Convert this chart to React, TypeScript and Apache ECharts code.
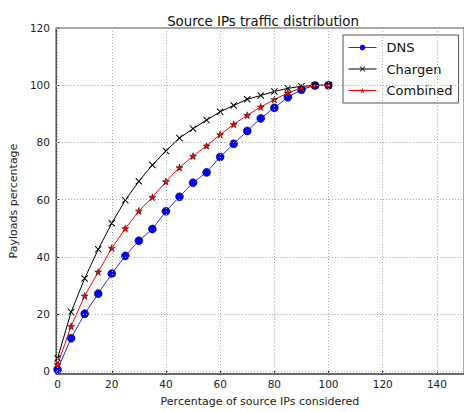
import React, { useEffect, useRef } from "react";
import * as echarts from "echarts";

const xValues = [0, 5, 10, 15, 20, 25, 30, 35, 40, 45, 50, 55, 60, 65, 70, 75, 80, 85, 90, 95, 100];
const dnsValues = [0.6, 11.5, 20.1, 27.1, 34.1, 40.3, 45.6, 49.7, 55.9, 61.0, 65.9, 69.5, 74.9, 79.5, 84.0, 88.4, 92.1, 95.8, 98.4, 99.9, 100];
const chargenValues = [4.5, 20.7, 32.4, 42.6, 51.7, 59.8, 66.4, 72.1, 77.0, 81.5, 84.8, 87.8, 90.7, 92.9, 95.1, 96.4, 97.8, 98.9, 99.6, 100, 100];
const combinedValues = [2.3, 15.7, 26.3, 34.7, 43.0, 49.9, 56.0, 60.8, 66.3, 71.2, 75.2, 78.8, 82.7, 86.3, 89.5, 92.4, 95.0, 97.3, 99.0, 99.9, 100];
const xTicks = [0, 20, 40, 60, 80, 100, 120, 140];
const yTicks = [0, 20, 40, 60, 80, 100, 120];

const STAR = "path://M5,0L6.2,3.6L10,3.6L6.9,5.9L8.1,9.5L5,7.3L1.9,9.5L3.1,5.9L0,3.6L3.8,3.6Z";
const CROSS = "path://M0,1L1,0L5,4L9,0L10,1L6,5L10,9L9,10L5,6L1,10L0,9L4,5Z";
const FONT = "DejaVu Sans";

export default function App() {
  const ref = useRef<HTMLDivElement>(null);
  useEffect(() => {
    if (!ref.current) return;
    const chart = echarts.init(ref.current, null, { renderer: "svg" });
    const pair = (ys: number[]) => xValues.map((x, i) => [x, ys[i]]);
    const gridStyle = { color: "#a8a8a8", width: 1, type: [1, 2] as any };
    chart.setOption({
      animation: false,
      backgroundColor: "#fff",
      textStyle: { fontFamily: FONT },
      title: {
        text: "Source IPs traffic distribution",
        left: 258,
        textAlign: "center",
        top: 10,
        textStyle: { fontFamily: FONT, fontSize: 13.3, fontWeight: "normal", color: "#111" },
      },
      legend: {
        data: ["DNS", "Chargen", "Combined"],
        orient: "vertical",
        left: 343,
        top: 35,
        itemWidth: 28,
        itemHeight: 7,
        itemGap: 6.5,
        padding: [5, 6, 5, 5],
        borderColor: "#555",
        borderWidth: 1,
        backgroundColor: "#fff",
        lineStyle: { width: 1 },
        itemStyle: { borderWidth: 0 },
        textStyle: { fontFamily: FONT, fontSize: 13, color: "#111", lineHeight: 15, padding: [0, 0, 0, 5] },
      },
      grid: {
        left: 52,
        top: 28,
        right: -2,
        bottom: 34,
        show: true,
        borderColor: "#555",
        borderWidth: 1,
        containLabel: false,
      },
      xAxis: [
        {
          type: "value",
          min: -0.6,
          max: 150,
          name: "Percentage of source IPs considered",
          nameLocation: "middle",
          nameGap: 22,
          nameTextStyle: { fontFamily: FONT, fontSize: 11, color: "#222" },
          axisLine: { show: true, onZero: false, lineStyle: { color: "#555", width: 1.5 } },
          axisTick: { show: true, inside: true, length: 4, customValues: xTicks, lineStyle: { color: "#333" } },
          axisLabel: { customValues: xTicks, fontFamily: FONT, fontSize: 10.5, color: "#222", margin: 4 },
          splitLine: { show: false },
        },
        {
          type: "value",
          position: "top",
          min: -0.6,
          max: 150,
          axisLine: { show: false },
          axisTick: { show: true, inside: true, length: 4, customValues: xTicks, lineStyle: { color: "#333" } },
          axisLabel: { show: false },
          splitLine: { show: false },
        },
      ],
      yAxis: {
        type: "value",
        min: -1,
        max: 120,
        name: "Payloads percentage",
        nameLocation: "middle",
        nameRotate: 90,
        nameGap: 31,
        nameTextStyle: { fontFamily: FONT, fontSize: 11, color: "#222" },
        axisLine: { show: true, onZero: false, lineStyle: { color: "#555", width: 1 } },
        axisTick: { show: true, inside: true, length: 4, customValues: yTicks, lineStyle: { color: "#333" } },
        axisLabel: { customValues: yTicks, fontFamily: FONT, fontSize: 10.5, color: "#222", margin: 6 },
        splitLine: { show: false },
      },
      series: [
        {
          name: "grid",
          type: "line",
          data: [],
          z: 1,
          silent: true,
          markLine: {
            silent: true,
            symbol: "none",
            label: { show: false },
            lineStyle: gridStyle,
            data: [
              ...xTicks.map((v) => ({ xAxis: v })),
              ...yTicks.map((v) => ({ yAxis: v })),
            ],
          },
        },
        {
          name: "DNS",
          type: "line",
          data: pair(dnsValues),
          z: 3,
          symbol: "circle",
          symbolSize: 8,
          lineStyle: { color: "#2a2aff", width: 1 },
          itemStyle: { color: "#0000ff", borderColor: "#000", borderWidth: 0.5 },
        },
        {
          name: "Chargen",
          type: "line",
          data: pair(chargenValues),
          z: 3,
          symbol: CROSS,
          symbolSize: 7,
          lineStyle: { color: "#000", width: 1 },
          itemStyle: { color: "#000" },
        },
        {
          name: "Combined",
          type: "line",
          data: pair(combinedValues),
          z: 4,
          symbol: STAR,
          symbolSize: 7,
          lineStyle: { color: "#ff0000", width: 1 },
          itemStyle: { color: "#ff0000", borderColor: "#000", borderWidth: 0.5 },
        },
      ],
    });
    return () => chart.dispose();
  }, []);
  return <div ref={ref} style={{ position: "fixed", left: 0, top: 0, width: 464, height: 412 }} />;
}
